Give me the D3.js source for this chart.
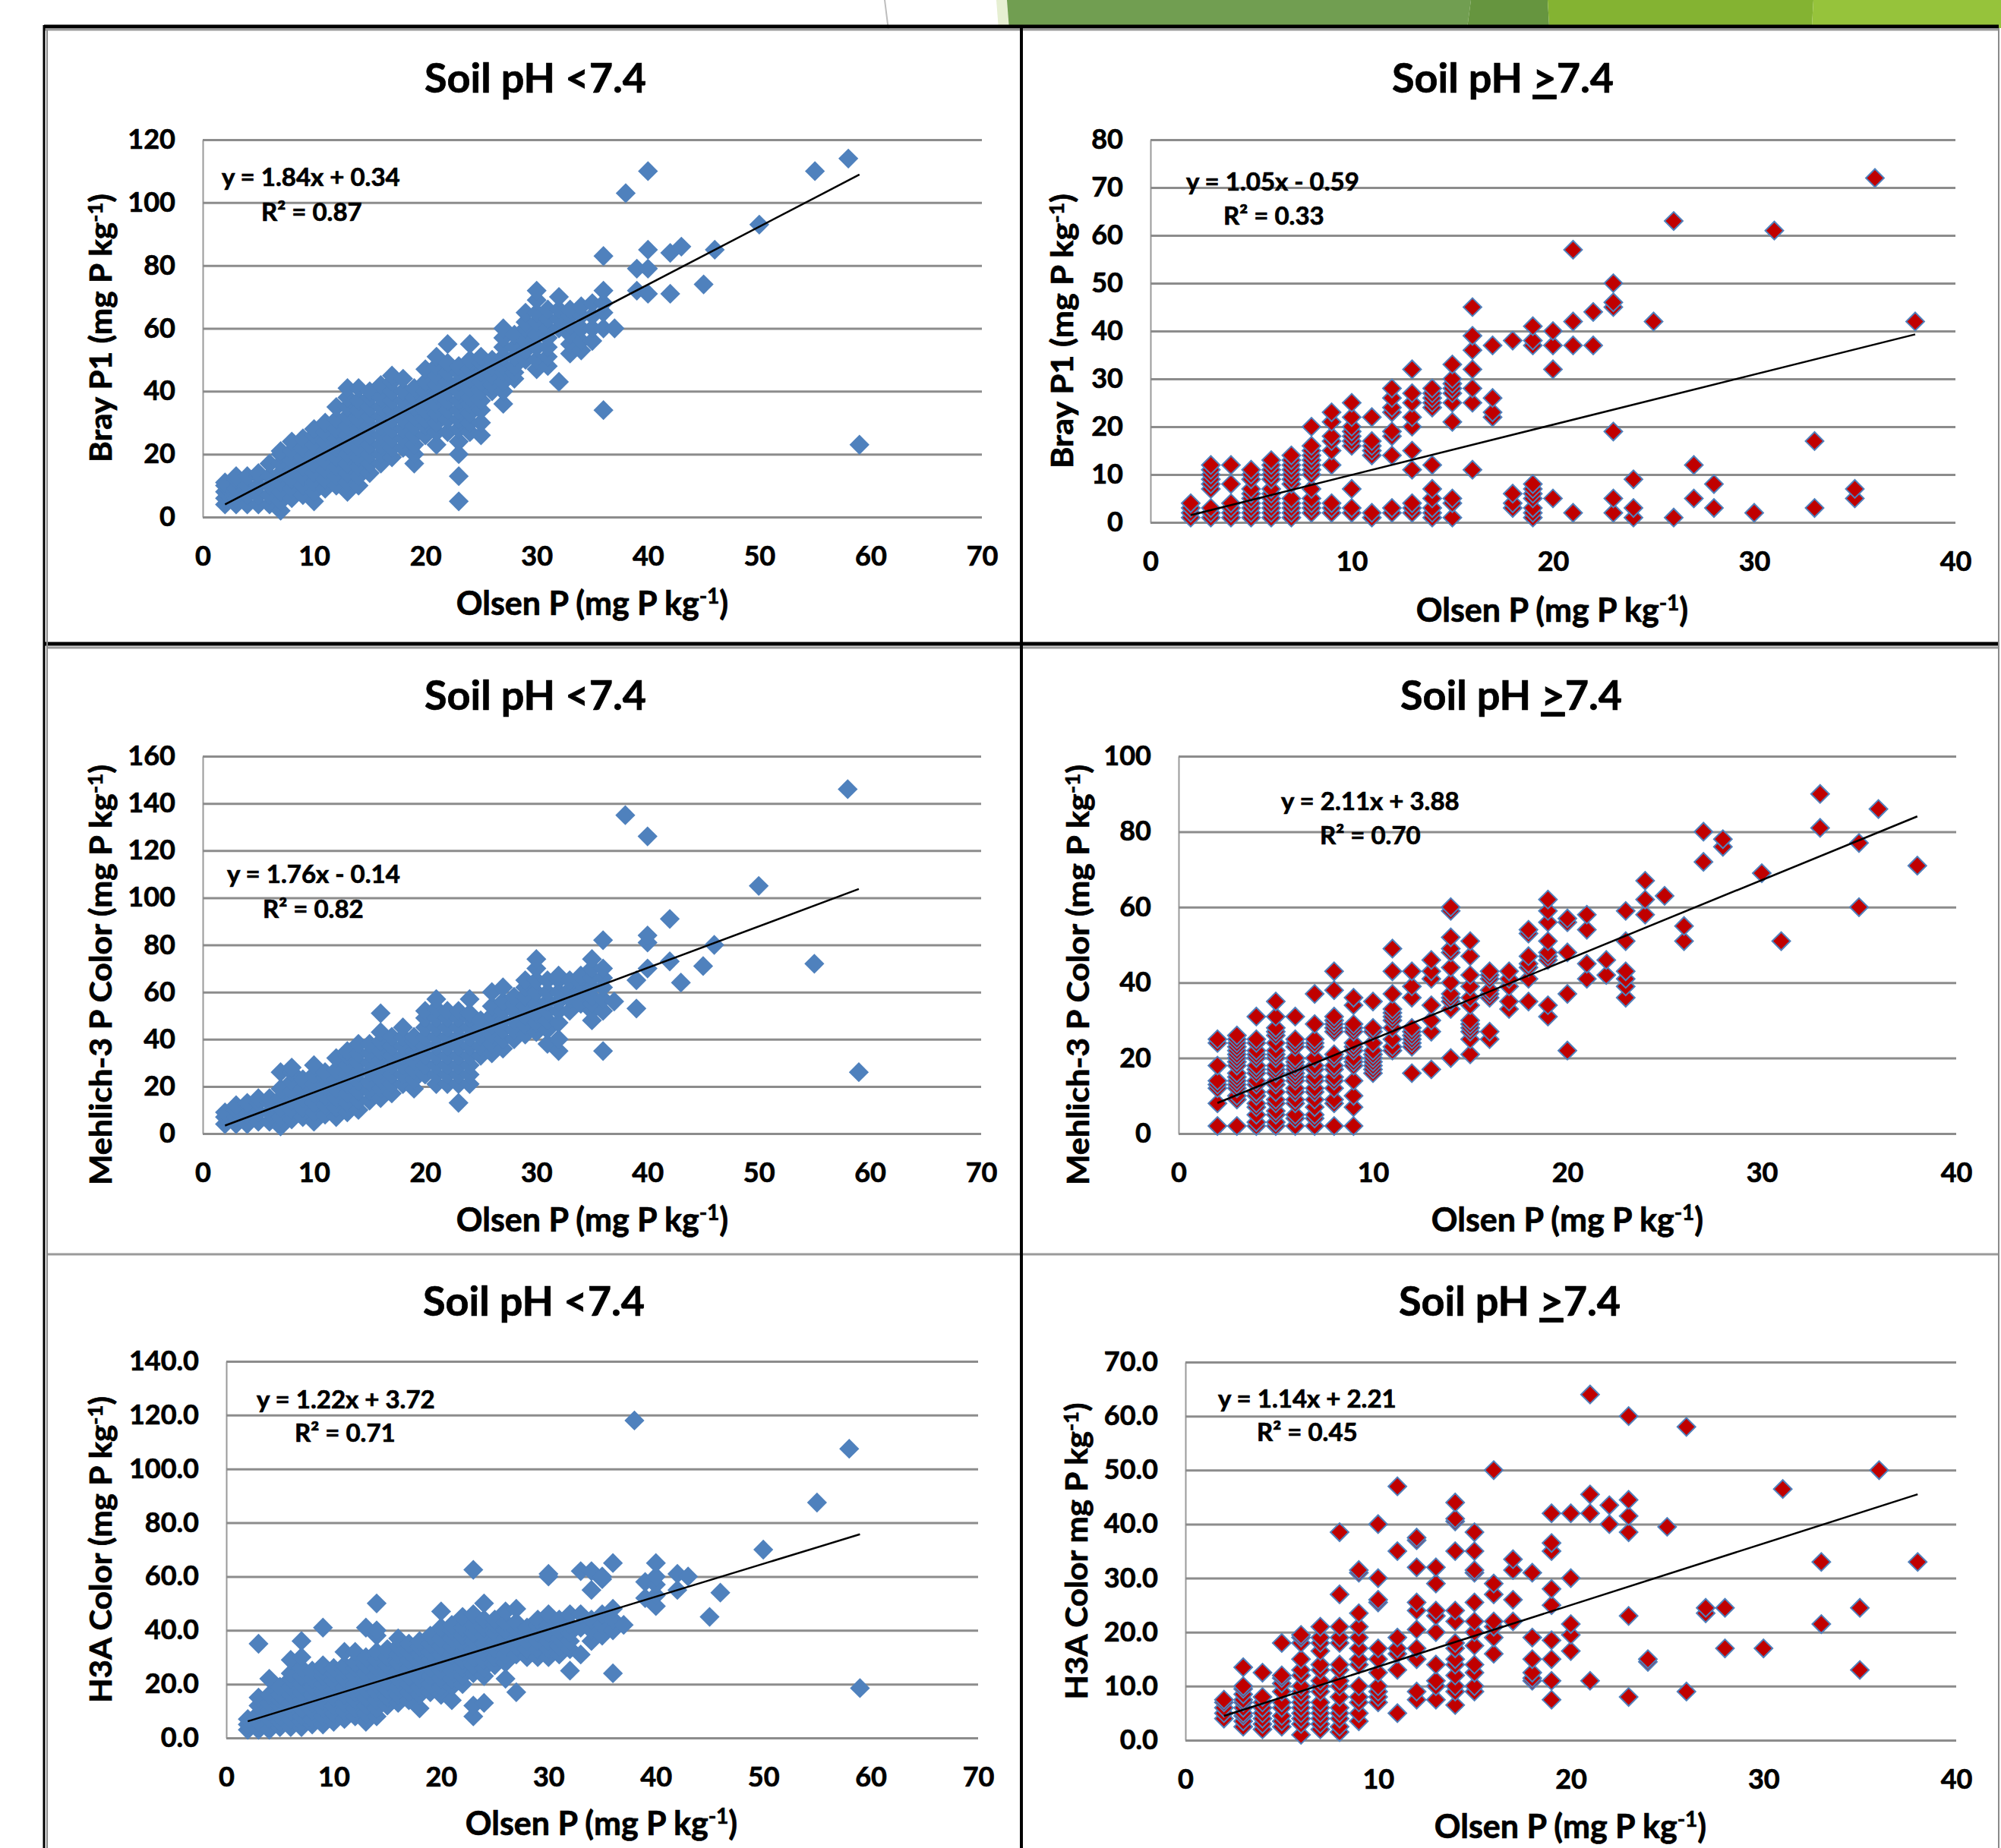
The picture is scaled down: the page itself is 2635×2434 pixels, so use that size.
<!DOCTYPE html>
<html>
<head>
<meta charset="utf-8">
<script src="https://d3js.org/d3.v7.min.js"></script>
<style>
  body { margin: 0; background: #fff; }
  text { font-family: Lato, "Open Sans", sans-serif; font-weight: 700; fill: #000; stroke: #000; stroke-width: 0.7px; }
  .tick text { font-size: 36px; }
  .grid line { stroke: #8c8c8c; stroke-width: 3px; }
  .yaxis path { stroke: #9a9a9a; stroke-width: 2px; }
  .xaxis path { display: none; }
</style>
</head>
<body>
<svg id="page" width="2635" height="2434"></svg>
<script>

// each row: [Olsen P, [readings at that Olsen P]]
var brayLow = [
  [2,[4,6,8,10,11]],[3,[4,6,9,12,13]],[4,[4,7,10,13]],[5,[4,7,10,13,14]],[6,[4,7,10,13,17]],
  [7,[2,5,8,11,14,17,20,21]],[8,[6,9,12,15,18,21,24]],[9,[7,10,13,16,19,22,25]],
  [10,[5,8,11,14,17,20,23,26,28]],[11,[9,12,15,18,21,24,27,30]],[12,[10,13,16,19,22,25,28,31,35]],
  [13,[8,11,14,17,20,23,26,29,32,35,38,41]],[14,[10,13,16,19,22,25,28,31,34,37,41]],
  [15,[14,17,20,23,26,29,32,35,38,40]],[16,[17,20,23,26,29,32,35,38,42]],
  [17,[19,22,25,28,31,34,37,40,43,45]],[18,[22,25,28,31,34,37,40,44]],[19,[17,20,23,26,29,32,35,38,41]],
  [20,[26,29,31,34,37,40,43,47]],[21,[23,27,30,33,36,39,42,45,48,51]],[22,[27,31,34,37,40,43,46,49,55]],
  [23,[5,13,20,24,28,31,34,37,40,43,46,48]],[24,[27,30,33,36,38,41,44,47,50,55]],[25,[26,30,34,37,40,43,46,49,51]],
  [26,[40,42,45,48,50]],[27,[36,40,43,46,48,51,54,57,60]],[28,[44,46,48,51,54,58]],[29,[50,53,56,60,62,65]],
  [30,[47,50,54,58,62,65,69,72]],[31,[48,51,54,57,60,63,66]],[32,[43,60,63,66,70]],[33,[52,55,58,61,64,66]],
  [34,[53,56,60,64,67]],[35,[56,60,64,68]],[36,[34,60,65,68,72,83]],[37,[60]],[38,[103]],
  [39,[72,79]],[40,[71,79,85,110]],[42,[71,84]],[43,[86]],[45,[74]],[46,[85]],[50,[93]],
  [55,[110]],[58,[114]],[59,[23]]
];

var brayHigh = [
  [2,[1,2,3,4]],[3,[1,2,3,7,8,9,10,11,12]],[4,[1,2,3,4,8,12]],[5,[1,2,3,4,5,6,7,9,10,11]],
  [6,[1,2,3,4,5,6,7,9,10,11,12,13]],[7,[1,2,3,4,5,8,9,10,11,12,13,14]],
  [8,[2,3,4,5,7,10,11,12,13,14,15,16,20]],[9,[2,3,4,12,15,17,18,21,23]],
  [10,[2,3,7,16,17,18,19,20,22,25]],[11,[1,2,14,15,16,17,22]],[12,[2,3,14,18,19,23,24,26,28]],
  [13,[2,3,4,11,15,20,22,25,27,32]],[14,[1,2,3,5,7,12,24,25,26,27,28]],
  [15,[1,4,5,21,25,27,28,29,30,33]],[16,[11,25,28,32,36,39,45]],[17,[22,23,26,37]],[18,[3,4,6,38]],
  [19,[1,2,3,5,6,7,8,37,38,41]],[20,[5,32,37,40]],[21,[2,37,42,57]],[22,[37,44]],
  [23,[2,5,19,45,46,50]],[24,[1,3,9]],[25,[42]],[26,[1,63]],[27,[5,12]],[28,[3,8]],[30,[2]],
  [31,[61]],[33,[3,17]],[35,[5,7]],[36,[72]],[38,[42]]
];

var mehlichLow = [
  [2,[4,7,9]],[3,[4,7,10,12]],[4,[4,8,12,13]],[5,[5,9,13,15]],[6,[5,9,13,15]],
  [7,[3,7,11,15,19,26]],[8,[6,10,14,18,22,26,28]],[9,[7,11,15,19,23]],
  [10,[5,9,13,17,21,25,29]],[11,[8,12,16,20,24,26]],[12,[7,11,15,19,23,27,32]],
  [13,[9,13,17,21,25,29,33,35]],[14,[10,14,18,22,26,30,34,38]],[15,[14,18,22,26,30,34,38]],
  [16,[15,19,23,27,31,35,39,43,51]],[17,[17,21,25,29,33,37,41]],[18,[21,25,29,33,37,41,45]],
  [19,[19,23,27,31,35,39,41]],[20,[25,29,33,37,41,45,49,52]],[21,[21,25,29,33,37,41,45,49,53,57]],
  [22,[21,25,29,33,37,41,45,49,52]],[23,[13,21,25,29,33,37,41,45,49,52]],[24,[21,25,29,33,37,41,45,49,51,57]],
  [25,[33,37,41,45,48]],[26,[34,38,42,46,50,54,60]],[27,[36,40,44,48,52,56,62]],
  [28,[40,44,48,52,55,58]],[29,[42,46,50,54,58,62,65]],[30,[43,47,51,55,60,65,70,74]],[31,[38,44,48,52,56,60,65]],
  [32,[35,40,47,52,56,60,65,67]],[33,[52,57,61,65]],[34,[55,60,64,67]],[35,[48,52,55,58,62,66,70,74]],
  [36,[35,52,57,62,66,70,82]],[37,[56]],[38,[135]],[39,[53,65]],[40,[70,81,84,126]],[42,[73,91]],
  [43,[64]],[45,[71]],[46,[80]],[50,[105]],[55,[72]],[58,[146]],[59,[26]]
];

var mehlichHigh = [
  [2,[2,8,12,13,14,18,24,25]],[3,[2,9,10,12,13,14,15,16,18,19,20,21,22,23,24,25,26]],
  [4,[2,3,5,7,8,10,11,13,14,16,17,18,20,21,22,24,25,31]],
  [5,[2,3,5,6,8,9,11,13,14,16,17,18,20,21,22,24,26,27,28,31,35]],
  [6,[2,4,5,8,9,11,12,14,15,16,17,18,19,20,23,24,25,31]],
  [7,[2,4,5,7,9,11,12,14,15,17,18,20,23,24,25,29,37]],
  [8,[2,8,9,12,14,15,17,18,20,21,27,28,29,30,31,38,43]],
  [9,[2,7,10,14,18,19,20,22,23,24,27,28,29,34,36]],[10,[16,17,18,19,20,21,22,24,27,28,35]],
  [11,[22,23,25,28,30,31,32,33,37,43,49]],[12,[16,23,24,25,26,27,28,36,39,43]],
  [13,[17,27,30,34,41,43,46]],[14,[20,33,35,36,37,40,44,48,49,52,59,60]],
  [15,[21,25,27,28,29,30,34,36,39,42,47,51]],[16,[25,27,36,37,38,41,42,43]],[17,[33,35,39,41,43]],
  [18,[35,41,44,45,47,53,54]],[19,[31,34,46,47,48,51,56,59,62]],[20,[22,37,48,56,57]],
  [21,[41,45,54,58]],[22,[42,46]],[23,[36,39,41,43,51,59]],[24,[58,62,67]],[25,[63]],[26,[51,55]],
  [27,[72,80]],[28,[76,78]],[30,[69]],[31,[51]],[33,[81,90]],[35,[60,77]],[36,[86]],[38,[71]]
];

var h3aLow = [
  [2,[3,5,7]],[3,[3,6,9,12,15,35]],[4,[3,7,10,13,16,22]],[5,[4,6,8,10,12,14,16,19]],
  [6,[4,7,10,13,16,19,22,24,29]],[7,[4,6,8,11,14,17,20,23,26,30,36]],[8,[5,7,10,13,16,19,22,25]],
  [9,[5,8,11,14,17,20,23,25,27,41]],[10,[6,9,12,15,18,21,24,26]],[11,[7,10,13,16,19,22,25,27,32]],
  [12,[8,11,14,17,20,23,26,28,32]],[13,[6,9,12,15,18,21,24,27,30,41]],[14,[8,11,14,17,20,23,26,29,32,38,40,50]],
  [15,[12,15,18,21,24,27,30,33]],[16,[13,16,19,22,25,28,31,34,37]],[17,[14,17,20,23,26,29,32,35]],
  [18,[11,16,19,22,25,28,31,34,36]],[19,[17,20,23,26,29,32,35,38]],[20,[16,19,22,25,28,31,34,37,41,47]],
  [21,[14,19,22,25,28,31,34,37,40,42]],[22,[20,23,26,29,32,35,38,41,45]],[23,[8,12,24,27,30,33,36,39,42,46,62.5]],
  [24,[13,23,26,29,32,35,38,41,44,50]],[25,[27,30,33,36,39,42,44]],[26,[22,28,31,34,37,40,43,47]],
  [27,[17,31,34,37,40,43,48]],[28,[30,33,36,39,41]],[29,[30,33,36,39,42,44]],[30,[30,33,36,39,42,46,60,61]],
  [31,[31,34,37,40,44]],[32,[25,33,36,39,42,46]],[33,[31,41,46,62]],[34,[36,40,44,55,62]],
  [35,[38,42,46,59,60]],[36,[24,40,44,48,65]],[37,[42]],[38,[118]],[39,[52,58]],
  [40,[49,53,57,60,65]],[42,[55,61]],[43,[60]],[45,[45]],[46,[54]],[50,[70]],[55,[87.5]],
  [58,[107.5]],[59,[18.5]]
];

var h3aHigh = [
  [2,[4,5,6,7,7.5]],[3,[2.5,3.5,4.5,5,6,7,7.5,8.5,9.5,10,13.5]],[4,[2,3,4,5,6,7,8,12.5]],
  [5,[2.5,3.5,4.5,6,7,9,10.5,11.5,12,18]],[6,[1,3,4,5,6,7,8,9,10,12,13,15,18,19,19.5]],
  [7,[2,3,4,5,6,7,9,10,11,13,14,16.5,18,19,21]],[8,[1.5,2.5,4,5,6,8,10,11,13,14,18,19,21,27,38.5]],
  [9,[3.5,5,7,8,10,14,15,17,19,21,23.5,31,31.5]],[10,[7,8,9,10,12.5,15,17,25.5,26,30,40]],
  [11,[5,13,16,17,19,35,47]],[12,[7.5,9,15,17,20.5,24,25.5,32,37,37.5]],
  [13,[7.5,10,11,14,20,23,24,29,32]],[14,[6.5,9,10,12,14,15,17,18,22,24,35,40.5,41,44]],
  [15,[9,10,12.5,14,17.5,20,22,25.5,31,31.5,35,38.5]],[16,[16,19,21,22,27,29,50]],
  [17,[22,26,31.5,33.5]],[18,[11,11.5,12.5,15,19,31]],[19,[7.5,11,15,18.5,25,28,35,36.5,42]],
  [20,[16.5,19.5,21.5,30,42]],[21,[11,42,45.5,64]],[22,[40,43.5]],[23,[8,23,38.5,41.5,44.5,60]],
  [24,[14.5,15]],[25,[39.5]],[26,[9,58]],[27,[23.5,24.5]],[28,[17,24.5]],[30,[17]],[31,[46.5]],
  [33,[21.5,33]],[35,[13,24.5]],[36,[50]],[38,[33]]
];

var yTicksBrayLow = [0,20,40,60,80,100,120];
var yTicksBrayHigh = [0,10,20,30,40,50,60,70,80];
var yTicksMehlichLow = [0,20,40,60,80,100,120,140,160];
var yTicksMehlichHigh = [0,20,40,60,80,100];
var yTicksH3aLow = [0,20,40,60,80,100,120,140];
var yTicksH3aHigh = [0,10,20,30,40,50,60,70];
var xTicksLow = [0,10,20,30,40,50,60,70];
var xTicksHigh = [0,10,20,30,40];

var LOW_TITLE = "Soil pH <7.4";
var BLUE = "#4f81bd", RED = "#c00000";

var panels = [
  {data: brayLow, yt: yTicksBrayLow, xt: xTicksLow, fit: [1.84,0.34,2,59], eq: "y = 1.84x + 0.34", r2: "R² = 0.87",
   ylabel: "Bray P1 (mg P kg", yclose: ")", x0: 267, x1: 1293, yTop: 184, yBot: 681, low: true,
   title: [705,122], xl: [780,810], yl: [147,432,354], e1: [292,245], e2: [344,291]},
  {data: brayHigh, yt: yTicksBrayHigh, xt: xTicksHigh, fit: [1.05,-0.59,2,38], eq: "y = 1.05x - 0.59", r2: "R² = 0.33",
   ylabel: "Bray P1 (mg P kg", yclose: ")", x0: 1515, x1: 2575, yTop: 184, yBot: 688, low: false,
   title: [1979,122], xl: [2044,819], yl: [1413,436,362], e1: [1562,251], e2: [1611,296]},
  {data: mehlichLow, yt: yTicksMehlichLow, xt: xTicksLow, fit: [1.76,-0.14,2,59], eq: "y = 1.76x - 0.14", r2: "R² = 0.82",
   ylabel: "Mehlich-3 P Color (mg P kg", yclose: ")", x0: 267, x1: 1292, yTop: 996, yBot: 1493, low: true,
   title: [705,935], xl: [780,1622], yl: [147,1284,554], e1: [299,1163], e2: [346,1209]},
  {data: mehlichHigh, yt: yTicksMehlichHigh, xt: xTicksHigh, fit: [2.11,3.88,2,38], eq: "y = 2.11x + 3.88", r2: "R² = 0.70",
   ylabel: "Mehlich-3 P Color (mg P kg", yclose: ")", x0: 1552, x1: 2576, yTop: 996, yBot: 1493, low: false,
   title: [1990,935], xl: [2064,1622], yl: [1434,1284,554], e1: [1687,1067], e2: [1738,1112]},
  {data: h3aLow, yt: yTicksH3aLow, xt: xTicksLow, fit: [1.22,3.72,2,59], eq: "y = 1.22x + 3.72", r2: "R² = 0.71",
   ylabel: "H3A Color (mg P kg", yclose: ")", x0: 298, x1: 1288, yTop: 1793, yBot: 2289, low: true, fixed: true,
   title: [703,1733], xl: [792,2417], yl: [147,2041,404], e1: [338,1855], e2: [388,1899]},
  {data: h3aHigh, yt: yTicksH3aHigh, xt: xTicksHigh, fit: [1.14,2.21,2,38], eq: "y = 1.14x + 2.21", r2: "R² = 0.45",
   ylabel: "H3A Color mg P kg", yclose: ")", x0: 1561, x1: 2576, yTop: 1794, yBot: 2292, low: false, fixed: true,
   title: [1988,1733], xl: [2068,2421], yl: [1432,2043,391], e1: [1604,1854], e2: [1655,1898]}
];

var svg = d3.select("#page");

// slide decoration peeking in above the charts
var banner = [
  {c: "#e6efd2", p: [[1312,0],[1329,0],[1333,52],[1316,52]]},
  {c: "#719e51", p: [[1326,0],[1937,0],[1930,52],[1330,52]]},
  {c: "#66953f", p: [[1937,0],[2038,0],[2041,52],[1930,52]]},
  {c: "#84b332", p: [[2038,0],[2388,0],[2385,52],[2041,52]]},
  {c: "#96c33b", p: [[2388,0],[2635,0],[2635,52],[2385,52]]}
];
svg.selectAll("polygon.banner").data(banner).enter().append("polygon")
  .attr("class", "banner")
  .attr("points", function(d){ return d.p.join(" "); })
  .attr("fill", function(d){ return d.c; });
svg.append("rect").attr("x", 0).attr("y", 37).attr("width", 2635).attr("height", 20).attr("fill", "#fff");
svg.append("line").attr("x1", 1165).attr("y1", 0).attr("x2", 1170).attr("y2", 40)
  .attr("stroke", "#bdbdbd").attr("stroke-width", 2);

// frame around the six panels
var frame = [
  [58,35,2632,35,"#000",5],[58,39,2632,39,"#9a9a9a",3],
  [58,848,2632,848,"#000",5],[62,853,2632,853,"#9a9a9a",3],
  [62,1652,2632,1652,"#9a9a9a",3],
  [58,33,58,2434,"#000",3],[62,39,62,2434,"#8a8a8a",2],
  [1345,37,1345,2434,"#000",4],[2632,37,2632,2434,"#8a8a8a",2]
];
svg.selectAll("line.frame").data(frame).enter().append("line")
  .attr("class", "frame")
  .attr("x1", function(d){ return d[0]; }).attr("y1", function(d){ return d[1]; })
  .attr("x2", function(d){ return d[2]; }).attr("y2", function(d){ return d[3]; })
  .attr("stroke", function(d){ return d[4]; }).attr("stroke-width", function(d){ return d[5]; });

function draw_panel(p){
  var x = d3.scaleLinear().domain(d3.extent(p.xt)).range([p.x0, p.x1]);
  var y = d3.scaleLinear().domain(d3.extent(p.yt)).range([p.yBot, p.yTop]);
  var g = svg.append("g");

  g.append("g").attr("class", "grid yaxis")
    .attr("transform", "translate(" + p.x0 + ",0)")
    .call(d3.axisLeft(y).tickValues(p.yt).tickSize(-(p.x1 - p.x0)).tickSizeOuter(0).tickPadding(36)
      .tickFormat(p.fixed ? d3.format(".1f") : d3.format("d")));

  g.append("g").attr("class", "xaxis")
    .attr("transform", "translate(0," + p.yBot + ")")
    .call(d3.axisBottom(x).tickValues(p.xt).tickSize(0).tickPadding(38).tickFormat(d3.format("d")))
    .selectAll("text").attr("dy", "0.71em");

  var points = p.data.flatMap(function(c){
    return c[1].map(function(v){ return [c[0], v]; });
  });
  var marker = d3.symbol().type(d3.symbolSquare).size(p.low ? 345 : 285);
  g.selectAll("path.pt").data(points).enter().append("path")
    .attr("class", "pt")
    .attr("d", marker)
    .attr("transform", function(d){ return "translate(" + x(d[0]) + "," + y(d[1]) + ") rotate(45)"; })
    .attr("fill", p.low ? BLUE : RED)
    .attr("stroke", p.low ? "none" : BLUE)
    .attr("stroke-width", p.low ? 0 : 2);

  var fit = p.fit;
  g.append("line")
    .attr("x1", x(fit[2])).attr("y1", y(fit[0] * fit[2] + fit[1]))
    .attr("x2", x(fit[3])).attr("y2", y(fit[0] * fit[3] + fit[1]))
    .attr("stroke", "#000").attr("stroke-width", 2.5);

  // title, the >= variants underline the sign
  var t = g.append("text").attr("x", p.title[0]).attr("y", p.title[1])
    .attr("text-anchor", "middle").style("font-size", "54px");
  if (p.low) {
    t.text(LOW_TITLE);
  } else {
    t.append("tspan").text("Soil pH ");
    t.append("tspan").style("text-decoration", "underline").text(">");
    t.append("tspan").text("7.4");
  }

  var xl = g.append("text").attr("x", p.xl[0]).attr("y", p.xl[1])
    .attr("text-anchor", "middle").style("font-size", "43px");
  xl.append("tspan").text("Olsen P (mg P kg");
  xl.append("tspan").attr("dy", -15).style("font-size", "28px").text("-1");
  xl.append("tspan").attr("dy", 15).text(")");

  var yl = g.append("text")
    .attr("transform", "translate(" + p.yl[0] + "," + p.yl[1] + ") rotate(-90)")
    .attr("text-anchor", "middle").style("font-size", "40px")
    .attr("textLength", p.yl[2]).attr("lengthAdjust", "spacingAndGlyphs");
  yl.append("tspan").text(p.ylabel);
  yl.append("tspan").attr("dy", -12).style("font-size", "26px").text("-1");
  yl.append("tspan").attr("dy", 12).text(p.yclose);

  g.append("text").attr("x", p.e1[0]).attr("y", p.e1[1]).style("font-size", "33px").text(p.eq);
  g.append("text").attr("x", p.e2[0]).attr("y", p.e2[1]).style("font-size", "33px").text(p.r2);
}

panels.forEach(draw_panel);

</script>
</body>
</html>
